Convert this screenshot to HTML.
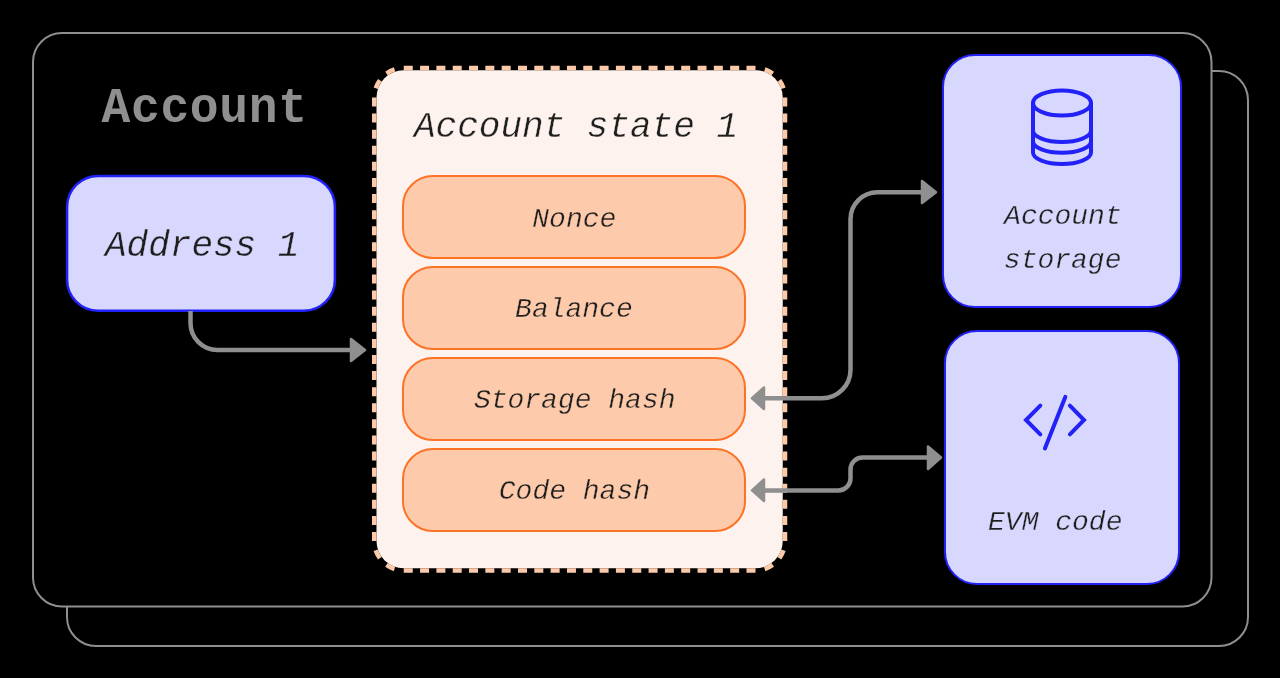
<!DOCTYPE html>
<html>
<head>
<meta charset="utf-8">
<style>
html,body{margin:0;padding:0;background:#000;width:1280px;height:678px;overflow:hidden;}
svg{display:block;will-change:transform;}
text{font-family:"Liberation Mono", monospace;}
.t{fill:#1e1e1e;font-style:italic;}
</style>
</head>
<body>
<svg width="1280" height="678" viewBox="0 0 1280 678">
<rect x="0" y="0" width="1280" height="678" fill="#000"/>
<!-- back box -->
<rect x="67" y="71" width="1181" height="575" rx="29" ry="29" fill="none" stroke="#8f8f8f" stroke-width="2"/>
<!-- front box -->
<rect x="33" y="33" width="1178.5" height="573.5" rx="29" ry="29" fill="#000" stroke="#8f8f8f" stroke-width="2"/>

<!-- Account title -->
<text x="204.6" y="0" font-size="48" font-weight="bold" fill="#8f8f8f" text-anchor="middle" letter-spacing="0.65" transform="translate(0,121.75) scale(1,1.04)">Account</text>

<!-- Address box -->
<rect x="67.1" y="175.9" width="267.8" height="134.8" rx="31" ry="31" fill="#d8d7fd" stroke="#2121f8" stroke-width="2.5"/>
<text class="t" stroke="#d8d7fd" stroke-width="0.35" x="202.2" y="256.1" font-size="36" text-anchor="middle">Address 1</text>

<!-- arrow address -> state -->
<path d="M190.5,311 V323 A27,27 0 0 0 217.5,350 H352" fill="none" stroke="#8f8f8f" stroke-width="4.5"/>
<path d="M351,339 L365,350 L351,361 Z" fill="#8f8f8f" stroke="#8f8f8f" stroke-width="2.5" stroke-linejoin="round"/>

<!-- Account state box -->
<rect x="376.5" y="70.25" width="406.25" height="498.0" rx="27.25" ry="27.25" fill="#fdf2ed"/>
<g fill="none" stroke="#fdcaa9" stroke-width="4.5">
  <path d="M403.75,68 H755.5" stroke-dasharray="9 7.321"/>
  <path d="M403.75,570.5 H755.5" stroke-dasharray="9 7.321"/>
  <path d="M374.25,97.5 V541.0" stroke-dasharray="9 7.093"/>
  <path d="M785,97.5 V541.0" stroke-dasharray="9 7.093"/>
  <path d="M374.25,97.5 A29.5,29.5 0 0 1 403.75,68" stroke-dasharray="0 9.446 9 9.446 9 9.446"/>
  <path d="M755.5,68 A29.5,29.5 0 0 1 785,97.5" stroke-dasharray="0 9.446 9 9.446 9 9.446"/>
  <path d="M785,541.0 A29.5,29.5 0 0 1 755.5,570.5" stroke-dasharray="0 9.446 9 9.446 9 9.446"/>
  <path d="M403.75,570.5 A29.5,29.5 0 0 1 374.25,541.0" stroke-dasharray="0 9.446 9 9.446 9 9.446"/>
</g>
<text class="t" stroke="#fdf2ed" stroke-width="0.35" x="576" y="137.2" font-size="36" text-anchor="middle">Account state 1</text>

<!-- field boxes -->
<rect x="403" y="176" width="342" height="82" rx="30" ry="30" fill="#fdcbab" stroke="#fc7226" stroke-width="2"/>
<rect x="403" y="267" width="342" height="82" rx="30" ry="30" fill="#fdcbab" stroke="#fc7226" stroke-width="2"/>
<rect x="403" y="358" width="342" height="82" rx="30" ry="30" fill="#fdcbab" stroke="#fc7226" stroke-width="2"/>
<rect x="403" y="449" width="342" height="82" rx="30" ry="30" fill="#fdcbab" stroke="#fc7226" stroke-width="2"/>
<text class="t" stroke="#fdcbab" stroke-width="0.35" x="574.3" y="226.8" font-size="28" text-anchor="middle">Nonce</text>
<text class="t" stroke="#fdcbab" stroke-width="0.35" x="573.9" y="317.3" font-size="28" text-anchor="middle">Balance</text>
<text class="t" stroke="#fdcbab" stroke-width="0.35" x="574.7" y="407.9" font-size="28" text-anchor="middle">Storage hash</text>
<text class="t" stroke="#fdcbab" stroke-width="0.35" x="574.4" y="498.9" font-size="28" text-anchor="middle">Code hash</text>

<!-- Account storage box -->
<rect x="943" y="55" width="238" height="252" rx="32" ry="32" fill="#d8d7fd" stroke="#2121f8" stroke-width="2"/>
<g fill="none" stroke="#2121f8" stroke-width="4" stroke-linecap="round" stroke-linejoin="round">
  <ellipse cx="1062" cy="103" rx="29" ry="12.6"/>
  <path d="M1033,103 V152.4 A29,11.5 0 0 0 1091,152.4 V103"/>
  <path d="M1033,130.5 A29,11.5 0 0 0 1091,130.5"/>
  <path d="M1033,141.2 A29,11.5 0 0 0 1091,141.2"/>
</g>
<text class="t" stroke="#d8d7fd" stroke-width="0.35" x="1062.9" y="223.8" font-size="28" text-anchor="middle">Account</text>
<text class="t" stroke="#d8d7fd" stroke-width="0.35" x="1062.65" y="267.7" font-size="28" text-anchor="middle">storage</text>

<!-- EVM box -->
<rect x="945" y="331" width="234" height="253" rx="32" ry="32" fill="#d8d7fd" stroke="#2121f8" stroke-width="2"/>
<g fill="none" stroke="#2121f8" stroke-width="4" stroke-linecap="round" stroke-linejoin="miter">
  <path d="M1040.3,405.6 L1026,420 L1040.3,434.3"/>
  <path d="M1069.9,405.6 L1084,420 L1069.9,434.3"/>
  <path d="M1065.3,396.9 L1044.9,448.5"/>
</g>
<text class="t" stroke="#d8d7fd" stroke-width="0.35" x="1055.25" y="529.9" font-size="28" text-anchor="middle">EVM code</text>

<!-- arrow storage hash <-> account storage -->
<path d="M764,398.3 H822 A28.5,28.5 0 0 0 850.5,369.8 V219.2 A27,27 0 0 1 877.5,192.2 H922" fill="none" stroke="#8f8f8f" stroke-width="4.5"/>
<path d="M764,387.5 L752,398.3 L764,409 Z" fill="#8f8f8f" stroke="#8f8f8f" stroke-width="2.5" stroke-linejoin="round"/>
<path d="M922,181 L936,192.2 L922,203 Z" fill="#8f8f8f" stroke="#8f8f8f" stroke-width="2.5" stroke-linejoin="round"/>

<!-- arrow code hash <-> EVM code -->
<path d="M764,490.4 H838.5 A12,12 0 0 0 850.5,478.4 V469.5 A12,12 0 0 1 862.5,457.5 H928" fill="none" stroke="#8f8f8f" stroke-width="4.5"/>
<path d="M764,479.5 L752,490.4 L764,501 Z" fill="#8f8f8f" stroke="#8f8f8f" stroke-width="2.5" stroke-linejoin="round"/>
<path d="M928,446.5 L941,457.5 L928,469 Z" fill="#8f8f8f" stroke="#8f8f8f" stroke-width="2.5" stroke-linejoin="round"/>
</svg>
</body>
</html>
